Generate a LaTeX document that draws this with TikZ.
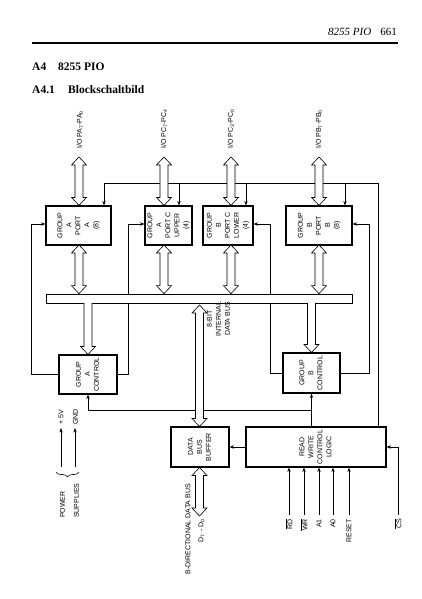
\documentclass[tikz,border=0pt]{standalone}
\usepackage{graphicx}
\usepackage{fontspec}
\setmainfont{Liberation Serif}
\newfontfamily\labfont{Liberation Sans}
\usetikzlibrary{arrows.meta,calc,decorations.pathreplacing}
\pgfdeclarelayer{bg}
\pgfsetlayers{bg,main}
\newcommand\rt[1]{\rotatebox{90}{\begin{tabular}{@{}c@{}}#1\end{tabular}}}
% hollow bus arrow, heads at both ends: #1 top tip, #2 bottom tip
\newcommand\busBoth[2]{\path[busl] let \p1=(#1), \p2=(#2) in
 (\x1,\y1) -- (\x1+7.5pt,\y1-8pt) -- (\x1+4pt,\y1-8pt) -- (\x1+4pt,\y2+8pt) --
 (\x1+7.5pt,\y2+8pt) -- (\x1,\y2) -- (\x1-7.5pt,\y2+8pt) -- (\x1-4pt,\y2+8pt) --
 (\x1-4pt,\y1-8pt) -- (\x1-7.5pt,\y1-8pt) -- cycle;}
% hollow bus arrow leaving the bus downwards: #1 open start, #2 tip
\newcommand\busDown[2]{\path[busl] let \p1=(#1), \p2=(#2) in
 (\x1-4pt,\y1+0.5pt) -- (\x1-4pt,\y2+8pt) -- (\x1-7.5pt,\y2+8pt) -- (\x1,\y2) --
 (\x1+7.5pt,\y2+8pt) -- (\x1+4pt,\y2+8pt) -- (\x1+4pt,\y1+0.5pt);}
\begin{document}
\begin{tikzpicture}[x=1pt,y=1pt,
  blk/.style={draw, line width=1.1pt, fill=white, inner sep=0pt,
    font=\labfont\fontsize{7}{9}\selectfont},
  wire/.style={line width=0.6pt},
  arr/.style={wire,-{Stealth[length=4.5pt,width=3.4pt]}},
  lbl/.style={font=\labfont\fontsize{7}{9}\selectfont, rotate=90, inner sep=0pt},
  busl/.style={draw, fill=white, line width=0.6pt, line join=miter},
  hdr/.style={inner sep=0pt, font=\fontsize{11}{13}\selectfont\itshape},
  ttl/.style={inner sep=0pt, font=\fontsize{11.5}{14}\selectfont\bfseries}
]
\useasboundingbox (0,0) rectangle (422,-599);

% ---------- page header ----------
\node[hdr, anchor=base west] (hpio) at (328,-36) {8255 PIO};
\node[inner sep=0pt, font=\fontsize{11}{13}\selectfont, anchor=base east] (hpg) at (397,-36) {661};
\coordinate (rl) at (32,-43);
\coordinate (rr) at (398,-43);
\draw[line width=1.3pt] (rl) -- (rr);
\node[ttl, anchor=base west] (t1a) at (32,-71) {A4};
\node[ttl, anchor=base west] (t1b) at (58,-71) {8255 PIO};
\node[ttl, anchor=base west] (t2a) at (32,-94) {A4.1};
\node[ttl, anchor=base west] (t2b) at (68,-94) {Blockschaltbild};

% ---------- blocks ----------
\node[blk, minimum width=65pt, minimum height=39pt] (PA)  at (78.5,-225.5) {\rt{GROUP\\A\\PORT\\A\\(8)}};
\node[blk, minimum width=47pt, minimum height=39pt] (PCU) at (168.5,-225.5) {\rt{GROUP\\A\\PORT C\\UPPER\\(4)}};
\node[blk, minimum width=50pt, minimum height=39pt] (PCL) at (228,-225.5) {\rt{GROUP\\B\\PORT C\\LOWER\\(4)}};
\node[blk, minimum width=66pt, minimum height=39pt] (PB)  at (319,-225.5) {\rt{GROUP\\B\\PORT\\B\\(8)}};
\node[draw, fill=white, line width=0.7pt, inner sep=0pt, minimum width=306pt, minimum height=9pt] (bus) at (199,-298.5) {};
\node[blk, minimum width=58pt, minimum height=39pt] (GAC) at (88,-374.5) {\rt{GROUP\\A\\CONTROL}};
\node[blk, minimum width=57pt, minimum height=40pt] (GBC) at (311.5,-373) {\rt{GROUP\\B\\CONTROL}};
\node[blk, minimum width=58pt, minimum height=40pt] (DBB) at (200,-447) {\rt{DATA\\BUS\\BUFFER}};
\node[blk, minimum width=140pt, minimum height=40pt] (RWL) at (316,-447) {\rt{READ\\WRITE\\CONTROL\\LOGIC}};

% ---------- coordinates ----------
\coordinate (cL) at (104,-183);
\coordinate (cR) at (378,-183);
\coordinate (dPCU) at (179,-183);
\coordinate (dPCL) at (246,-183);
\coordinate (dPB) at (345,-183);
\coordinate (lA) at (31,-224);
\coordinate (lB) at (128,-224);
\coordinate (lC) at (270,-224);
\coordinate (lD) at (369,-224);
\coordinate (jB) at (311.5,-410);
\coordinate (iRD) at (289,-515);
\coordinate (iWR) at (304,-515);
\coordinate (iA1) at (319,-515);
\coordinate (iA0) at (333,-515);
\coordinate (iRS) at (349,-515);
\coordinate (iCS) at (398,-515);
\coordinate (p5b) at (61,-467);
\coordinate (p5t) at (61,-428);
\coordinate (pgb) at (75,-467);
\coordinate (pgt) at (75,-428);
\coordinate (brR) at (79,-472);
\coordinate (brL) at (56,-472);
\coordinate (tPA) at (79,-157);
\coordinate (tPCU) at (164,-157);
\coordinate (tPCL) at (231,-157);
\coordinate (tPB) at (319,-157);
\coordinate (bPA) at (79,-245);
\coordinate (bPCU) at (164,-245);
\coordinate (bPCL) at (231,-245);
\coordinate (bPB) at (319,-245);
\coordinate (ibT) at (199.5,-305);
\coordinate (dbT) at (199.5,-467.5);
\coordinate (dbB) at (199.5,-516);

% ---------- control wires (behind buses) ----------
\begin{pgfonlayer}{bg}
\draw[wire] (cR) -- (cL);
\draw[arr] (cL) -- (cL |- PA.north);
\draw[arr] (dPCU) -- (dPCU |- PCU.north);
\draw[arr] (dPCL) -- (dPCL |- PCL.north);
\draw[arr] (dPB) -- (dPB |- PB.north);
\draw[wire] (cR) -- (cR |- RWL.north);
\draw[arr] (GAC.west) -| (lA) -- (lA -| PA.west);
\draw[arr] (GAC.east) -| (lB) -- (lB -| PCU.west);
\draw[arr] (GBC.west) -| (lC) -- (lC -| PCL.east);
\draw[arr] (GBC.east) -| (lD) -- (lD -| PB.east);
\draw[arr] (GBC.south |- RWL.north) -- (GBC.south);
\draw[arr] (jB) -| (GAC.south);
\end{pgfonlayer}

\draw[arr] (RWL.west) -- (DBB.east);
\foreach \c in {iRD,iWR,iA1,iA0,iRS}{\draw[arr] (\c) -- (\c |- RWL.south);}
\draw[arr] (iCS) |- (RWL.east);
\draw[arr] (p5b) -- (p5t);
\draw[arr] (pgb) -- (pgt);
\draw[wire, decorate, decoration={brace, amplitude=5pt}] (brR) -- (brL);

% ---------- hollow bus arrows ----------
\busBoth{tPA}{tPA |- PA.north}
\busBoth{tPCU}{tPCU |- PCU.north}
\busBoth{tPCL}{tPCL |- PCL.north}
\busBoth{tPB}{tPB |- PB.north}
\busBoth{bPA}{bPA |- bus.north}
\busBoth{bPCU}{bPCU |- bus.north}
\busBoth{bPCL}{bPCL |- bus.north}
\busBoth{bPB}{bPB |- bus.north}
\busDown{GAC.north |- bus.south}{GAC.north}
\busDown{GBC.north |- bus.south}{GBC.north}
\busBoth{ibT}{ibT |- DBB.north}
\busBoth{dbT}{dbB}

% ---------- labels ----------
\node[lbl, anchor=west] (lPA) at (80,-149) {I/O PA\textsubscript{7}-PA\textsubscript{0}};
\node[lbl, anchor=west] (lPCU) at (164,-149) {I/O PC\textsubscript{7}-PC\textsubscript{4}};
\node[lbl, anchor=west] (lPCL) at (231,-149) {I/O PC\textsubscript{3}-PC\textsubscript{0}};
\node[lbl, anchor=west] (lPB) at (319,-149) {I/O PB\textsubscript{7}-PB\textsubscript{0}};
\node[lbl, align=center] (lib) at (218.5,-319) {8-BIT\\INTERNAL\\DATA BUS};
\node[lbl, anchor=east] (ldb) at (188,-484) {B-DIRECTIONAL DATA BUS};
\node[lbl, anchor=east] (ldd) at (201.5,-519) {D\textsubscript{7} - D\textsubscript{0}};
\node[lbl, anchor=west] (l5v) at (61,-425) {+ 5V};
\node[lbl, anchor=west] (lgnd) at (75.5,-425) {GND};
\node[lbl, anchor=west] (lpow) at (62.5,-518) {POWER};
\node[lbl, anchor=west] (lsup) at (76.5,-518) {SUPPLIES};
\node[lbl, anchor=east] (lRD) at (289,-519) {$\overline{\hbox{RD}}$};
\node[lbl, anchor=east] (lWR) at (304,-519) {$\overline{\hbox{WR}}$};
\node[lbl, anchor=east] (lA1) at (319,-519) {A1};
\node[lbl, anchor=east] (lA0) at (333,-519) {A0};
\node[lbl, anchor=east] (lRS) at (349,-519) {RESET};
\node[lbl, anchor=east] (lCS) at (398,-519) {$\overline{\hbox{CS}}$};
\end{tikzpicture}
\end{document}
